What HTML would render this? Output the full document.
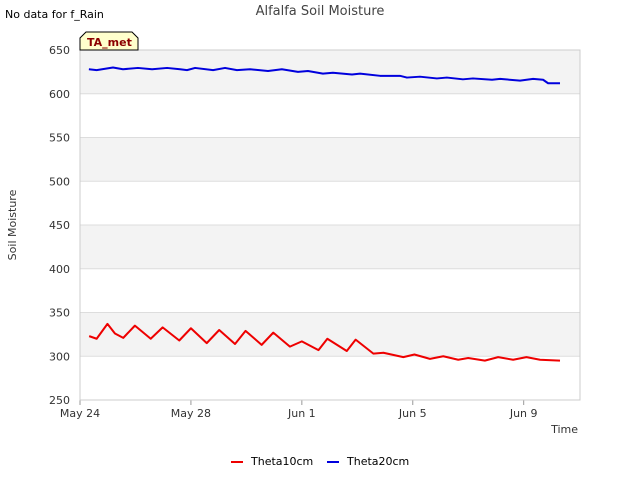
<!DOCTYPE html>
<html><head><meta charset="utf-8"><style>
body{margin:0;background:#fff;font-family:"Liberation Sans","DejaVu Sans",sans-serif;}
svg text{font-family:"DejaVu Sans","Liberation Sans",sans-serif;}
</style></head><body>
<svg id="chart" width="640" height="480" xmlns="http://www.w3.org/2000/svg">
<rect width="640" height="480" fill="#fff"/>
<text x="320" y="15" text-anchor="middle" font-size="13" fill="#444">Alfalfa Soil Moisture</text>
<text x="5" y="18" font-size="11" fill="#000">No data for f_Rain</text>
<g id="bands"></g>
<g id="yticks"></g>
<g id="xticks"></g>
<rect x="80" y="50" width="500" height="350" fill="none" stroke="#ccc"/>
<g id="series"></g>
<text x="16" y="225" font-size="11" fill="#333" text-anchor="middle" transform="rotate(-90 16 225)">Soil Moisture</text>
<text x="578" y="433" font-size="11" fill="#333" text-anchor="end">Time</text>
<g>
<path d="M80,50 L80,38 L86,32 L132,32 L138,38 L138,50 Z" fill="#ffffcc" stroke="#000"/>
<text x="87" y="46" font-size="11" font-weight="bold" fill="#8b0000">TA_met</text>
</g>
<g>
<g><line x1="231" y1="462" x2="243" y2="462" stroke="#e00" stroke-width="2"/><text x="251" y="465" font-size="11" fill="#000">Theta10cm</text></g>
<g><line x1="327" y1="462" x2="339" y2="462" stroke="#00d" stroke-width="2"/><text x="347" y="465" font-size="11" fill="#000">Theta20cm</text></g>
</g>
</svg>
<script>
const yTicks=[250,300,350,400,450,500,550,600,650];
const xTickDays=[0,4,8,12,16];
const xTickLabels=["May 24","May 28","Jun 1","Jun 5","Jun 9"];
const redDays=[0.33,0.6,0.99,1.26,1.56,1.98,2.55,2.98,3.58,4.0,4.57,5.02,5.59,5.97,6.55,6.97,7.57,8.0,8.6,8.92,9.62,9.94,10.58,10.94,11.66,12.06,12.62,13.1,13.64,14.0,14.6,15.08,15.62,16.1,16.59,17.31];
const redVals=[323,320,337,326,321,335,320,333,318,332,315,330,314,329,313,327,311,317,307,320,306,319,303,304,299,302,297,300,296,298,295,299,296,299,296,295];
const blueDays=[0.32,0.6,1.19,1.55,2.09,2.6,3.14,3.61,3.86,4.15,4.8,5.23,5.66,6.13,6.78,7.28,7.86,8.22,8.76,9.12,9.81,10.1,10.82,11.54,11.79,12.26,12.87,13.23,13.81,14.17,14.86,15.15,15.87,16.34,16.7,16.88,17.31];
const blueVals=[628,627,630,628,629.5,628,629.5,628,627,629.5,627,629.5,627,628,626,628,625,626,623,624,622,623,620.5,620.5,618.5,619.5,617.5,618.5,616.5,617.5,616,617,615,617,616,612,612];
const NS="http://www.w3.org/2000/svg";
const X=d=>80+d*27.73;
const Y=v=>400-(v-250)*0.875;
function mk(t,a,p){const e=document.createElementNS(NS,t);for(const k in a)e.setAttribute(k,a[k]);p.appendChild(e);return e;}
const bands=document.getElementById('bands');
for(let i=0;i<yTicks.length-1;i++){
 if(i%2===1){const r=mk('rect',{x:80,y:Y(yTicks[i+1]),width:500,height:Y(yTicks[i])-Y(yTicks[i+1]),fill:'#f3f3f3'},bands);
 
 }
}
const yt=document.getElementById('yticks');
yTicks.forEach(v=>{
 const l=mk('line',{x1:80,x2:580,y1:Y(v),y2:Y(v),stroke:'#ddd'},yt);
 
 
 const t=mk('text',{x:70,y:Y(v)+4,'text-anchor':'end','font-size':11,fill:'#333'},yt);
 
 
 t.textContent=v;
});
const xt=document.getElementById('xticks');
xTickDays.forEach((d,i)=>{
 const l=mk('line',{x1:X(d),x2:X(d),y1:400,y2:405,stroke:'#999'},xt);
 
 
 const t=mk('text',{x:X(d),y:417,'text-anchor':'middle','font-size':11,fill:'#333'},xt);
 
 
 t.textContent=xTickLabels[i];
});
const sg=document.getElementById('series');
function line(days,vals,color,name){
 const p=mk('polyline',{points:days.map((d,i)=>X(d)+','+Y(vals[i])).join(' '),fill:'none',stroke:color,'stroke-width':2,'stroke-linejoin':'round'},sg);
 
 
}
line(redDays,redVals,'#e00','theta10cm-line');
line(blueDays,blueVals,'#00d','theta20cm-line');
</script>
</body></html>
